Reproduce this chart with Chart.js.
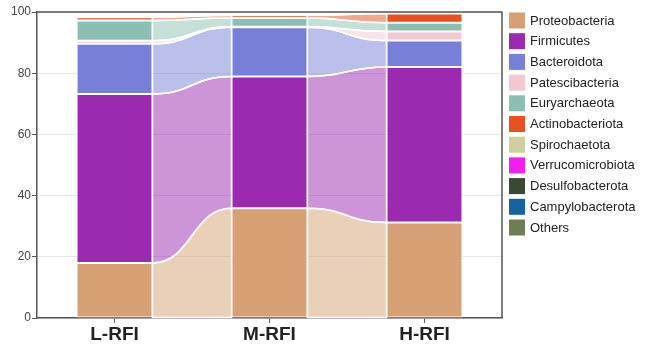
<!DOCTYPE html>
<html>
<head>
<meta charset="utf-8">
<script src="https://cdn.jsdelivr.net/npm/chart.js@4.4.1/dist/chart.umd.min.js"></script>
<style>
  html, body { margin: 0; padding: 0; background: #fff; }
  #wrap { width: 646px; height: 349px; }
</style>
</head>
<body>
<div id="wrap"><canvas id="chart" width="646" height="349"></canvas></div>
<script>
// Relative abundance (%) of the top phyla in each RFI group
const categories = ['L-RFI', 'M-RFI', 'H-RFI'];
const yTicks = [0, 20, 40, 60, 80, 100];

const proteobacteria    = [18.0, 35.9, 31.2];
const firmicutes        = [55.2, 43.0, 50.8];
const bacteroidota      = [16.4, 16.1, 8.65];
const patescibacteria   = [1.0, 0.2, 2.95];
const euryarchaeota     = [6.6, 2.8, 2.9];
const actinobacteriota  = [1.1, 0.9, 3.0];
const spirochaetota     = [0.3, 0.2, 0.1];
const verrucomicrobiota = [0.2, 0.1, 0.05];
const desulfobacterota  = [0.2, 0.1, 0.05];
const campylobacterota  = [0.1, 0.05, 0.05];
const others            = [0.2, 0.1, 0.1];

const phylumNames = ['Proteobacteria', 'Firmicutes', 'Bacteroidota', 'Patescibacteria',
  'Euryarchaeota', 'Actinobacteriota', 'Spirochaetota', 'Verrucomicrobiota',
  'Desulfobacterota', 'Campylobacterota', 'Others'];
const phylumValues = [proteobacteria, firmicutes, bacteroidota, patescibacteria,
  euryarchaeota, actinobacteriota, spirochaetota, verrucomicrobiota,
  desulfobacterota, campylobacterota, others];

const phylumColors = ['#D6A074', '#9C2AB0', '#777FD8', '#F2C9D2', '#8CBFB4', '#E8501F',
  '#CFCFA0', '#F01EF0', '#3A4834', '#1464A5', '#6E7D55'];

const datasets = phylumNames.map((name, i) => ({
  label: name,
  data: phylumValues[i],
  backgroundColor: phylumColors[i],
  flowColor: phylumColors[i] + '80',
  borderColor: '#ffffff',
  borderWidth: 1,
  borderSkipped: false,
  barPercentage: 0.49,
  categoryPercentage: 1.0
}));

// Smooth ribbons linking each segment to the same segment of the next bar
const flowPlugin = {
  id: 'flows',
  beforeDatasetsDraw(chart) {
    const ctx = chart.ctx;
    const paths = [];
    chart.data.datasets.forEach((ds, d) => {
      const meta = chart.getDatasetMeta(d);
      for (let i = 0; i < meta.data.length - 1; i++) {
        const a = meta.data[i].getProps(['x', 'y', 'base', 'width'], true);
        const b = meta.data[i + 1].getProps(['x', 'y', 'base', 'width'], true);
        const x0 = a.x + a.width / 2, x1 = b.x - b.width / 2, xm = (x0 + x1) / 2;
        const p = new Path2D();
        p.moveTo(x0, a.y);
        p.bezierCurveTo(xm, a.y, xm, b.y, x1, b.y);
        p.lineTo(x1, b.base);
        p.bezierCurveTo(xm, b.base, xm, a.base, x0, a.base);
        p.closePath();
        paths.push({ p, color: ds.flowColor });
      }
    });
    ctx.save();
    paths.forEach(({ p, color }) => { ctx.fillStyle = color; ctx.fill(p); });
    ctx.strokeStyle = '#ffffff';
    ctx.lineWidth = 1.5;
    paths.forEach(({ p }) => ctx.stroke(p));
    ctx.restore();
  }
};

// Top and right frame lines plus the side legend
const framePlugin = {
  id: 'frameAndLegend',
  afterDraw(chart) {
    const ctx = chart.ctx;
    const { left, right, top, bottom } = chart.chartArea;
    ctx.save();
    ctx.strokeStyle = '#555';
    ctx.lineWidth = 1.5;
    ctx.beginPath();
    ctx.moveTo(left, top);
    ctx.lineTo(right, top);
    ctx.lineTo(right, bottom);
    ctx.stroke();

    const boxX = right + 7, boxTop = top + 0.5, box = 16, step = 20.7;
    ctx.font = '13px "Liberation Sans", Arial, sans-serif';
    ctx.textBaseline = 'middle';
    ctx.textAlign = 'left';
    chart.data.datasets.forEach((ds, i) => {
      const y = boxTop + i * step;
      ctx.fillStyle = ds.backgroundColor;
      ctx.fillRect(boxX, y, box, box);
      ctx.fillStyle = '#222';
      ctx.fillText(ds.label, boxX + box + 5, y + box / 2 + 0.5);
    });
    ctx.restore();
  }
};

new Chart(document.getElementById('chart'), {
  type: 'bar',
  data: { labels: categories, datasets },
  plugins: [flowPlugin, framePlugin],
  options: {
    responsive: false,
    devicePixelRatio: 1,
    animation: false,
    layout: { padding: { left: 0, top: 12, right: 144, bottom: 0 } },
    plugins: { legend: { display: false }, tooltip: { enabled: false } },
    scales: {
      x: {
        stacked: true,
        offset: true,
        afterFit(s) { s.height = 31; },
        grid: { display: true, drawOnChartArea: false, offset: false, tickLength: 5, color: '#666' },
        border: { display: true, color: '#555', width: 1.5 },
        ticks: { color: '#222', padding: 0, font: { family: '"Liberation Sans", Arial, sans-serif', size: 19, weight: 'bold' } }
      },
      y: {
        stacked: true,
        min: yTicks[0],
        max: yTicks[yTicks.length - 1],
        z: 1,
        afterFit(s) { s.width = 37; },
        afterBuildTicks(s) { s.ticks = yTicks.map(v => ({ value: v })); },
        grid: { color: 'rgba(170,170,215,0.3)', tickColor: '#555', tickLength: 5 },
        border: { display: true, color: '#555', width: 1.5 },
        ticks: { color: '#444', padding: 1, font: { family: '"Liberation Sans", Arial, sans-serif', size: 12 } }
      }
    }
  }
});
</script>
</body>
</html>
